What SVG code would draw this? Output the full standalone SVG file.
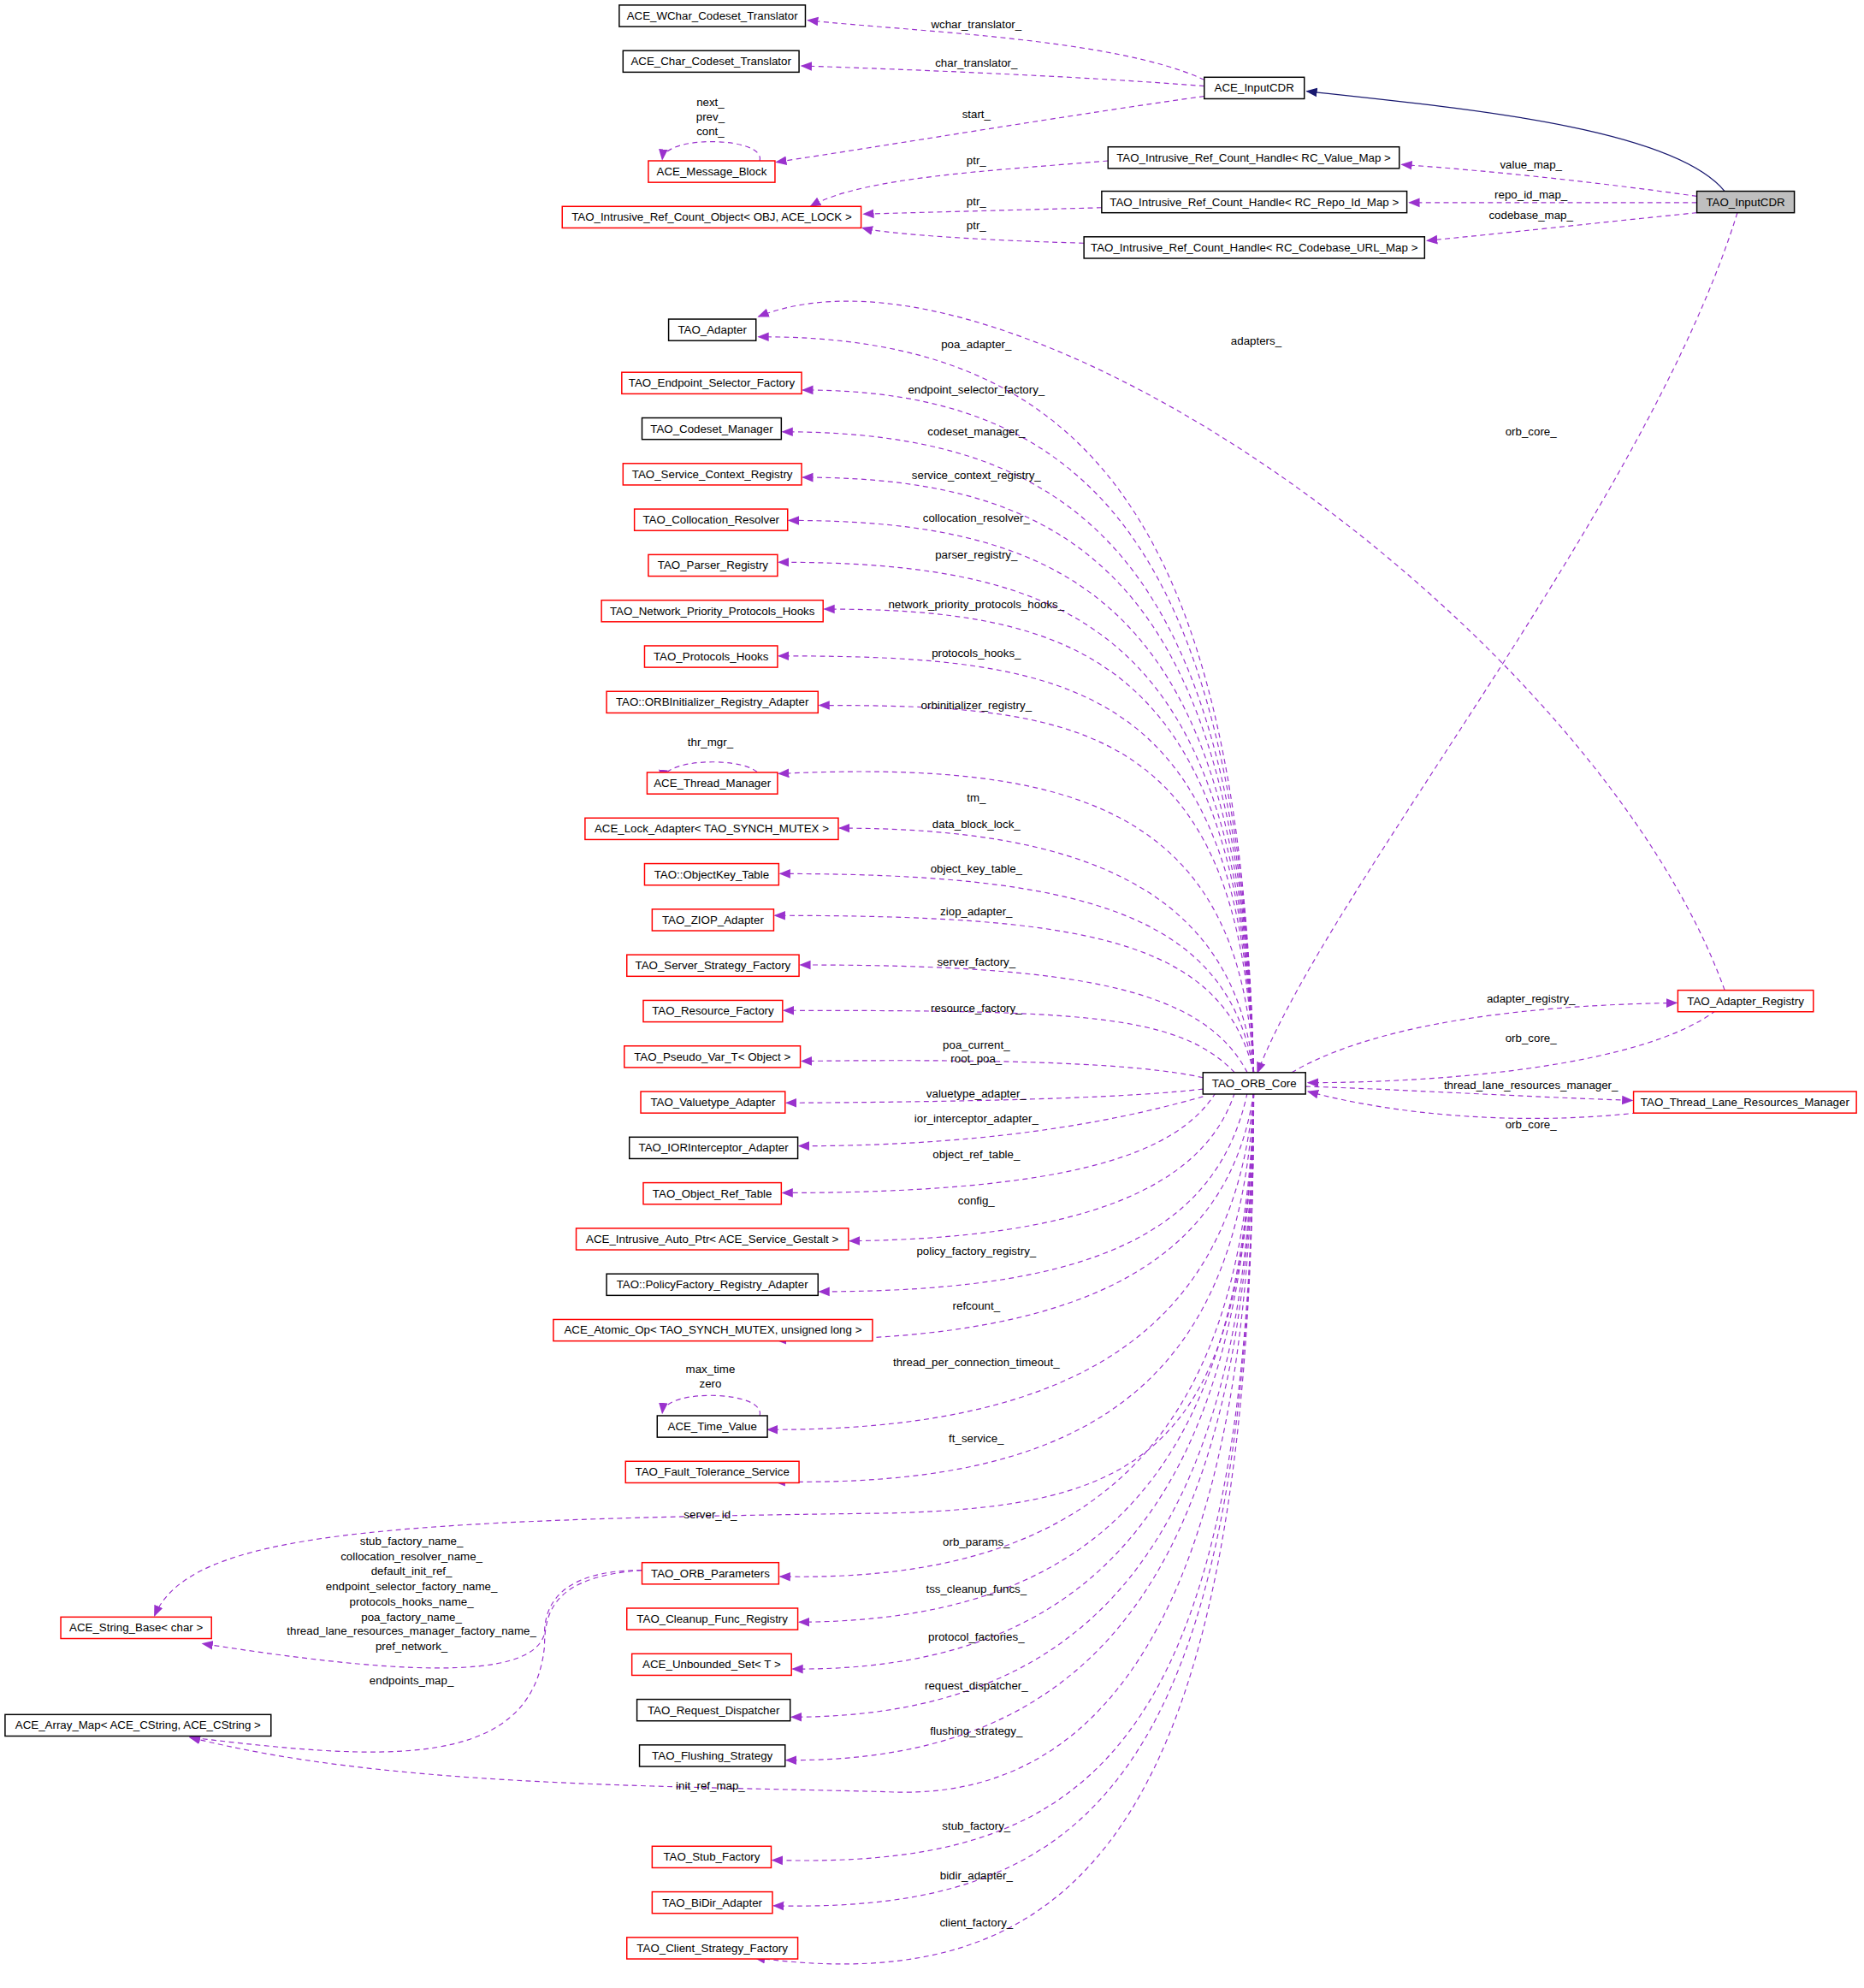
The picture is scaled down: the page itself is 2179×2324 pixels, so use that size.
<svg xmlns="http://www.w3.org/2000/svg" width="2179" height="2324" viewBox="0 0 2179 2324">
<style>
.n rect{fill:#fff;stroke:#000;stroke-width:1}
.r rect{stroke:#f00}
.g rect{fill:#bfbfbf}
text{font-family:"Liberation Sans",Arial,sans-serif;font-size:9px;text-anchor:middle;fill:#000}
.e path{fill:none;stroke:#9a32cd;stroke-width:0.8;stroke-dasharray:4,3}
.e path{marker-end:url(#a)}
.e path.s{stroke:#191970;stroke-dasharray:none;marker-end:url(#b)}
</style>
<defs>
<marker id="a" viewBox="0 0 10 10" refX="9" refY="5" markerWidth="9" markerHeight="9" markerUnits="userSpaceOnUse" orient="auto"><path d="M0,1 L10,5 L0,9 z" fill="#9a32cd"/></marker>
<marker id="b" viewBox="0 0 10 10" refX="9" refY="5" markerWidth="9" markerHeight="9" markerUnits="userSpaceOnUse" orient="auto"><path d="M0,1 L10,5 L0,9 z" fill="#191970"/></marker>
</defs>
<rect width="2179" height="2324" fill="#fff"/>
<g transform="scale(1.4803)">
<g class="e" id="connectors">
<path class="s" d="M1362,151 C1320,100 1150,85 1032,72"/>
<path d="M951,63 C880,30 720,25 638,16"/>
<path d="M951,68 C850,60 720,55 633,52"/>
<path d="M951,76 C850,90 700,115 613,128"/>
<path d="M600,127 C605,108 525,106 523,126"/>
<path d="M1340,155 C1270,145 1180,135 1107,130"/>
<path d="M1340,160 L1113,160"/>
<path d="M1340,168 C1270,175 1180,185 1127,190"/>
<path d="M875,127 C780,135 680,140 640,163"/>
<path d="M870,164 L682,169"/>
<path d="M856,192 C780,190 700,185 681,180"/>
<path d="M1372,168 C1300,400 1050,700 993,847"/>
<path d="M1362,782 C1260,500 800,170 599,250"/>
<path d="M1020,847 C1100,800 1250,793 1324,792"/>
<path d="M1355,798 C1300,840 1150,855 1033,855"/>
<path d="M1031,858 C1100,860 1200,866 1289,869"/>
<path d="M1300,878 C1200,890 1100,880 1033,862"/>
<path d="M990,847 C980,400 850,265 599,266"/>
<path d="M990,847 C980,420 850,308 634,308"/>
<path d="M990,847 C980,440 850,341 618,341"/>
<path d="M990,847 C980,460 850,377 634,377"/>
<path d="M990,847 C980,480 850,411 623,411"/>
<path d="M990,847 C980,500 850,444 615,444"/>
<path d="M990,847 C980,520 850,481 651,481"/>
<path d="M990,847 C980,540 850,518 615,518"/>
<path d="M990,847 C980,570 850,557 647,557"/>
<path d="M990,847 C980,640 850,600 615,611"/>
<path d="M600,616 C605,598 525,596 523,616"/>
<path d="M990,847 C975,700 850,654 663,654"/>
<path d="M990,847 C970,720 850,690 616,690"/>
<path d="M990,847 C965,740 850,723 612,723"/>
<path d="M985,847 C950,780 850,762 632,762"/>
<path d="M975,847 C930,800 850,798 619,798"/>
<path d="M950,851 C900,840 800,836 633,838"/>
<path d="M950,860 C900,866 800,870 621,871"/>
<path d="M950,866 C900,880 800,905 631,905"/>
<path d="M960,863 C930,910 850,942 618,942"/>
<path d="M975,863 C950,940 850,978 671,980"/>
<path d="M985,863 C960,980 850,1020 647,1020"/>
<path d="M990,863 C970,1000 850,1060 613,1058"/>
<path d="M990,863 C975,1050 850,1130 606,1129"/>
<path d="M600,1118 C605,1098 525,1096 523,1116"/>
<path d="M990,863 C980,1100 850,1175 612,1170"/>
<path d="M990,863 C985,1150 900,1190 700,1195 C300,1200 150,1210 122,1276"/>
<path d="M990,863 C985,1150 850,1250 616,1245"/>
<path d="M990,863 C985,1180 850,1280 631,1281"/>
<path d="M990,863 C985,1200 850,1320 626,1318"/>
<path d="M990,863 C988,1230 850,1356 625,1356"/>
<path d="M990,863 C988,1260 850,1392 621,1390"/>
<path d="M990,863 C988,1380 800,1420 700,1415 C500,1410 300,1410 150,1372"/>
<path d="M990,863 C990,1400 850,1475 610,1469"/>
<path d="M990,863 C990,1420 850,1510 611,1505"/>
<path d="M990,863 C990,1450 850,1580 596,1546"/>
<path d="M507,1240 C440,1240 430,1270 430,1290 C420,1330 300,1320 160,1298"/>
<path d="M507,1240 C440,1245 430,1270 430,1300 C420,1400 300,1390 150,1372"/>
</g>
<g id="labels">
<text x="771" y="22">wchar_translator_</text>
<text x="771" y="53">char_translator_</text>
<text x="771" y="93">start_</text>
<text x="561" y="84">next_</text><text x="561" y="95">prev_</text><text x="561" y="107">cont_</text>
<text x="1209" y="133">value_map_</text>
<text x="1209" y="157">repo_id_map_</text>
<text x="1209" y="173">codebase_map_</text>
<text x="771" y="130">ptr_</text><text x="771" y="162">ptr_</text><text x="771" y="181">ptr_</text>
<text x="1209" y="344">orb_core_</text>
<text x="992" y="272">adapters_</text>
<text x="1209" y="792">adapter_registry_</text>
<text x="1209" y="823">orb_core_</text>
<text x="1209" y="860">thread_lane_resources_manager_</text>
<text x="1209" y="891">orb_core_</text>
<text x="771" y="275">poa_adapter_</text>
<text x="771" y="311">endpoint_selector_factory_</text>
<text x="771" y="344">codeset_manager_</text>
<text x="771" y="378">service_context_registry_</text>
<text x="771" y="412">collocation_resolver_</text>
<text x="771" y="441">parser_registry_</text>
<text x="771" y="480">network_priority_protocols_hooks_</text>
<text x="771" y="519">protocols_hooks_</text>
<text x="771" y="560">orbinitializer_registry_</text>
<text x="561" y="589">thr_mgr_</text>
<text x="771" y="633">tm_</text>
<text x="771" y="654">data_block_lock_</text>
<text x="771" y="689">object_key_table_</text>
<text x="771" y="723">ziop_adapter_</text>
<text x="771" y="763">server_factory_</text>
<text x="771" y="799">resource_factory_</text>
<text x="771" y="828">poa_current_</text><text x="771" y="839">root_poa_</text>
<text x="771" y="867">valuetype_adapter_</text>
<text x="771" y="886">ior_interceptor_adapter_</text>
<text x="771" y="915">object_ref_table_</text>
<text x="771" y="951">config_</text>
<text x="771" y="991">policy_factory_registry_</text>
<text x="771" y="1034">refcount_</text>
<text x="771" y="1079">thread_per_connection_timeout_</text>
<text x="561" y="1084">max_time</text><text x="561" y="1096">zero</text>
<text x="771" y="1139">ft_service_</text>
<text x="561" y="1199">server_id_</text>
<text x="771" y="1221">orb_params_</text>
<text x="771" y="1258">tss_cleanup_funcs_</text>
<text x="771" y="1296">protocol_factories_</text>
<text x="771" y="1334">request_dispatcher_</text>
<text x="771" y="1370">flushing_strategy_</text>
<text x="561" y="1413">init_ref_map_</text>
<text x="771" y="1445">stub_factory_</text>
<text x="771" y="1484">bidir_adapter_</text>
<text x="771" y="1521">client_factory_</text>
<text x="325" y="1220">stub_factory_name_</text>
<text x="325" y="1232">collocation_resolver_name_</text>
<text x="325" y="1244">default_init_ref_</text>
<text x="325" y="1256">endpoint_selector_factory_name_</text>
<text x="325" y="1268">protocols_hooks_name_</text>
<text x="325" y="1280">poa_factory_name_</text>
<text x="325" y="1291">thread_lane_resources_manager_factory_name_</text>
<text x="325" y="1303">pref_network_</text>
<text x="325" y="1330">endpoints_map_</text>
</g>
<g id="n1" class="n"><rect x="489" y="4" width="147" height="17"/><text x="562.5" y="15.5">ACE_WChar_Codeset_Translator</text></g>
<g id="n2" class="n"><rect x="492" y="40" width="139" height="17"/><text x="561.5" y="51.5">ACE_Char_Codeset_Translator</text></g>
<g id="n3" class="n"><rect x="951" y="61" width="79" height="17"/><text x="990.5" y="72.5">ACE_InputCDR</text></g>
<g id="n4" class="n r"><rect x="512" y="127" width="100" height="17"/><text x="562" y="138.5">ACE_Message_Block</text></g>
<g id="n5" class="n r"><rect x="444" y="163" width="236" height="17"/><text x="562" y="174.5">TAO_Intrusive_Ref_Count_Object&lt; OBJ, ACE_LOCK &gt;</text></g>
<g id="n6" class="n"><rect x="875" y="116" width="230" height="17"/><text x="990" y="127.5">TAO_Intrusive_Ref_Count_Handle&lt; RC_Value_Map &gt;</text></g>
<g id="n7" class="n"><rect x="870" y="151" width="241" height="17"/><text x="990.5" y="162.5">TAO_Intrusive_Ref_Count_Handle&lt; RC_Repo_Id_Map &gt;</text></g>
<g id="n8" class="n"><rect x="856" y="187" width="269" height="17"/><text x="990.5" y="198.5">TAO_Intrusive_Ref_Count_Handle&lt; RC_Codebase_URL_Map &gt;</text></g>
<g id="n9" class="n g"><rect x="1340" y="151" width="77" height="17"/><text x="1378.5" y="162.5">TAO_InputCDR</text></g>
<g id="n10" class="n"><rect x="528" y="252" width="69" height="17"/><text x="562.5" y="263.5">TAO_Adapter</text></g>
<g id="n11" class="n r"><rect x="491" y="294" width="142" height="17"/><text x="562" y="305.5">TAO_Endpoint_Selector_Factory</text></g>
<g id="n12" class="n"><rect x="507" y="330" width="110" height="17"/><text x="562" y="341.5">TAO_Codeset_Manager</text></g>
<g id="n13" class="n r"><rect x="492" y="366" width="141" height="17"/><text x="562.5" y="377.5">TAO_Service_Context_Registry</text></g>
<g id="n14" class="n r"><rect x="501" y="402" width="121" height="17"/><text x="561.5" y="413.5">TAO_Collocation_Resolver</text></g>
<g id="n15" class="n r"><rect x="512" y="438" width="102" height="17"/><text x="563" y="449.5">TAO_Parser_Registry</text></g>
<g id="n16" class="n r"><rect x="475" y="474" width="175" height="17"/><text x="562.5" y="485.5">TAO_Network_Priority_Protocols_Hooks</text></g>
<g id="n17" class="n r"><rect x="509" y="510" width="105" height="17"/><text x="561.5" y="521.5">TAO_Protocols_Hooks</text></g>
<g id="n18" class="n r"><rect x="479" y="546" width="167" height="17"/><text x="562.5" y="557.5">TAO::ORBInitializer_Registry_Adapter</text></g>
<g id="n19" class="n r"><rect x="511" y="610" width="103" height="17"/><text x="562.5" y="621.5">ACE_Thread_Manager</text></g>
<g id="n20" class="n r"><rect x="462" y="646" width="200" height="17"/><text x="562" y="657.5">ACE_Lock_Adapter&lt; TAO_SYNCH_MUTEX &gt;</text></g>
<g id="n21" class="n r"><rect x="509" y="682" width="106" height="17"/><text x="562" y="693.5">TAO::ObjectKey_Table</text></g>
<g id="n22" class="n r"><rect x="515" y="718" width="96" height="17"/><text x="563" y="729.5">TAO_ZIOP_Adapter</text></g>
<g id="n23" class="n r"><rect x="495" y="754" width="136" height="17"/><text x="563" y="765.5">TAO_Server_Strategy_Factory</text></g>
<g id="n24" class="n r"><rect x="508" y="790" width="110" height="17"/><text x="563" y="801.5">TAO_Resource_Factory</text></g>
<g id="n25" class="n r"><rect x="493" y="826" width="139" height="17"/><text x="562.5" y="837.5">TAO_Pseudo_Var_T&lt; Object &gt;</text></g>
<g id="n26" class="n r"><rect x="506" y="862" width="114" height="17"/><text x="563" y="873.5">TAO_Valuetype_Adapter</text></g>
<g id="n27" class="n"><rect x="497" y="898" width="133" height="17"/><text x="563.5" y="909.5">TAO_IORInterceptor_Adapter</text></g>
<g id="n28" class="n r"><rect x="508" y="934" width="109" height="17"/><text x="562.5" y="945.5">TAO_Object_Ref_Table</text></g>
<g id="n29" class="n r"><rect x="455" y="970" width="215" height="17"/><text x="562.5" y="981.5">ACE_Intrusive_Auto_Ptr&lt; ACE_Service_Gestalt &gt;</text></g>
<g id="n30" class="n"><rect x="479" y="1006" width="167" height="17"/><text x="562.5" y="1017.5">TAO::PolicyFactory_Registry_Adapter</text></g>
<g id="n31" class="n r"><rect x="437" y="1042" width="252" height="17"/><text x="563" y="1053.5">ACE_Atomic_Op&lt; TAO_SYNCH_MUTEX, unsigned long &gt;</text></g>
<g id="n32" class="n"><rect x="519" y="1118" width="87" height="17"/><text x="562.5" y="1129.5">ACE_Time_Value</text></g>
<g id="n33" class="n r"><rect x="494" y="1154" width="137" height="17"/><text x="562.5" y="1165.5">TAO_Fault_Tolerance_Service</text></g>
<g id="n34" class="n r"><rect x="507" y="1234" width="108" height="17"/><text x="561" y="1245.5">TAO_ORB_Parameters</text></g>
<g id="n35" class="n r"><rect x="495" y="1270" width="135" height="17"/><text x="562.5" y="1281.5">TAO_Cleanup_Func_Registry</text></g>
<g id="n36" class="n r"><rect x="499" y="1306" width="126" height="17"/><text x="562" y="1317.5">ACE_Unbounded_Set&lt; T &gt;</text></g>
<g id="n37" class="n"><rect x="503" y="1342" width="121" height="17"/><text x="563.5" y="1353.5">TAO_Request_Dispatcher</text></g>
<g id="n38" class="n"><rect x="505" y="1378" width="115" height="17"/><text x="562.5" y="1389.5">TAO_Flushing_Strategy</text></g>
<g id="n39" class="n r"><rect x="515" y="1458" width="94" height="17"/><text x="562" y="1469.5">TAO_Stub_Factory</text></g>
<g id="n40" class="n r"><rect x="515" y="1494" width="95" height="17"/><text x="562.5" y="1505.5">TAO_BiDir_Adapter</text></g>
<g id="n41" class="n r"><rect x="495" y="1530" width="135" height="17"/><text x="562.5" y="1541.5">TAO_Client_Strategy_Factory</text></g>
<g id="n42" class="n r"><rect x="48" y="1277" width="119" height="17"/><text x="107.5" y="1288.5">ACE_String_Base&lt; char &gt;</text></g>
<g id="n43" class="n"><rect x="4" y="1354" width="210" height="17"/><text x="109" y="1365.5">ACE_Array_Map&lt; ACE_CString, ACE_CString &gt;</text></g>
<g id="n44" class="n"><rect x="950" y="847" width="81" height="17"/><text x="990.5" y="858.5">TAO_ORB_Core</text></g>
<g id="n45" class="n r"><rect x="1325" y="782" width="107" height="17"/><text x="1378.5" y="793.5">TAO_Adapter_Registry</text></g>
<g id="n46" class="n r"><rect x="1290" y="862" width="176" height="17"/><text x="1378" y="873.5">TAO_Thread_Lane_Resources_Manager</text></g>
</g>
</svg>
